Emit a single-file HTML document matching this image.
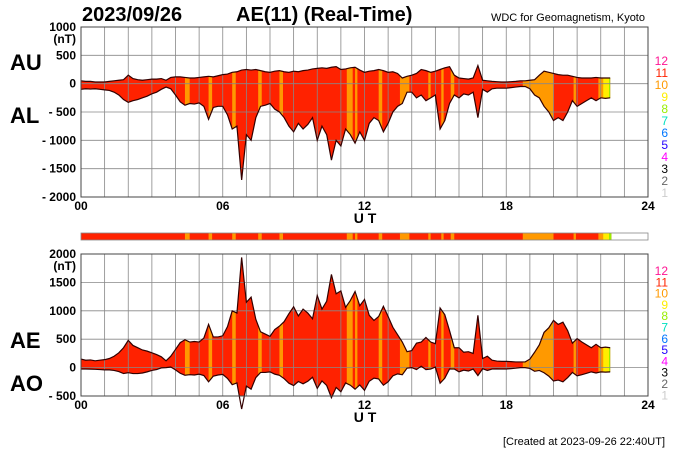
<!DOCTYPE html>
<html><head><meta charset="utf-8"><style>
body{margin:0;background:#fff;font-family:"Liberation Sans",sans-serif}
svg text{font-family:"Liberation Sans",sans-serif}
</style></head><body>
<svg id="c" width="700" height="450" viewBox="0 0 700 450" xmlns="http://www.w3.org/2000/svg">
<text x="82" y="21" font-size="20" font-weight="bold">2023/09/26</text>
<text x="236" y="21" font-size="20" font-weight="bold">AE(11) (Real-Time)</text>
<text x="645" y="21" font-size="11" text-anchor="end">WDC for Geomagnetism, Kyoto</text>
<text x="10" y="70" font-size="22" font-weight="bold">AU</text>
<text x="10" y="123" font-size="22" font-weight="bold">AL</text>
<text x="10" y="348" font-size="22" font-weight="bold">AE</text>
<text x="10" y="391" font-size="22" font-weight="bold">AO</text>
<text x="665" y="445" font-size="11" text-anchor="end">[Created at 2023-09-26 22:40UT]</text>
<g id="g"></g>
</svg>
<script>
const au=[50,40,40,30,30,30,40,50,60,70,
150,90,70,60,70,80,80,90,60,110,
120,120,110,100,100,110,120,130,120,140,
160,170,200,210,240,250,240,250,230,210,
200,220,230,210,200,220,210,230,240,260,
270,280,270,290,300,250,260,280,290,240,
200,220,230,250,230,200,210,180,100,130,
150,180,250,230,200,220,250,280,300,150,
100,90,80,100,320,60,50,40,35,30,
30,35,40,50,50,60,70,150,220,200,
180,160,150,150,130,110,100,100,100,110,
100,100,100];
const al=[-100,-90,-95,-90,-100,-110,-120,-150,-200,-280,
-330,-300,-280,-250,-220,-180,-150,-100,-60,-90,
-200,-320,-380,-350,-360,-340,-400,-630,-420,-400,
-400,-550,-800,-750,-1700,-900,-1000,-600,-400,-380,
-350,-450,-500,-600,-750,-850,-700,-800,-720,-600,
-1000,-750,-900,-1350,-1000,-1100,-800,-900,-1050,-850,
-1000,-700,-600,-650,-850,-700,-500,-400,-350,-150,
-150,-250,-200,-300,-250,-200,-800,-650,-350,-200,
-250,-180,-200,-150,-600,-100,-150,-90,-80,-80,
-80,-70,-60,-50,-50,-90,-200,-250,-400,-500,
-650,-600,-650,-500,-300,-400,-350,-300,-250,-300,
-250,-260,-250];
const times=au.map((v,i)=>Math.min(i*0.2,22.45));
const segStart=[4.4,5.4,6.4,7.5,8.4,11.25,11.6,12.6,13.5,14.7,15.25,15.65,18.7,20.85,21.9,22.1,22.35];
const segEnd=[4.6,5.55,6.55,7.65,8.55,11.5,11.7,12.75,13.9,14.8,15.35,15.8,20.0,20.95,22.1,22.35,22.5];
const segCount=[10,10,10,10,10,10,10,10,10,10,10,10,10,10,10,9,8];
const ticksTop=[1000,500,0,-500,-1000,-1500,-2000];
const ticksBot=[2000,1500,1000,500,0,-500];
const xTicks=["00","06","12","18","24"];
const legend=[12,11,10,9,8,7,6,5,4,3,2,1];
const colors={12:"#ff1493",11:"#ff2200",10:"#ff9900",9:"#ffee00",8:"#99ee00",7:"#00e0c0",6:"#0077ff",5:"#2200ff",4:"#ff00ff",3:"#000",2:"#666",1:"#ccc"};
const NS="http://www.w3.org/2000/svg",G=document.getElementById('g');
const X0=81,X1=648;
const xs=h=>X0+(X1-X0)*h/24;
function mk(t,a,p){const e=document.createElementNS(NS,t);for(const k in a)e.setAttribute(k,a[k]);(p||G).appendChild(e);return e;}
function panel(id,top,bot,vmax,vmin,ticks,up,lo,name,legTop,legStep){
  const ys=v=>top+(vmax-v)/(vmax-vmin)*(bot-top);
  const cp=mk('clipPath',{id:'cp'+id});
  let d='M'+times.map((t,i)=>xs(t)+','+ys(up[i])).join('L');
  for(let i=times.length-1;i>=0;i--)d+='L'+xs(times[i])+','+ys(lo[i]);
  d+='Z';mk('path',{d:d},cp);
  const gr=mk('g',{'clip-path':'url(#cp'+id+')'});
  
  
  mk('rect',{x:X0,y:top,width:X1-X0,height:bot-top,fill:colors[11]},gr);
  segStart.forEach((s,i)=>{const r=mk('rect',{x:xs(s),y:top,width:xs(segEnd[i])-xs(s),height:bot-top,fill:colors[segCount[i]]},gr);
    
    });
  for(let h=1;h<24;h++)mk('line',{x1:xs(h),x2:xs(h),y1:top,y2:bot,stroke:'#888','stroke-width':0.8});
  ticks.forEach(v=>{mk('line',{x1:X0,x2:X1,y1:ys(v),y2:ys(v),stroke:'#888','stroke-width':0.8});
    const t=mk('text',{x:76,y:ys(v)+4,'font-size':12,'font-weight':'bold','text-anchor':'end'});t.textContent=(v<0?'- '+(-v):v);
    
    });
  const nt=mk('text',{x:76,y:ys(ticks[0])+16,'font-size':12,'font-weight':'bold','text-anchor':'end'});nt.textContent='(nT)';
  const l1=mk('path',{d:'M'+times.map((t,i)=>xs(t)+','+ys(up[i])).join('L'),fill:'none',stroke:'#300','stroke-width':1.2});
  
  
  const l2=mk('path',{d:'M'+times.map((t,i)=>xs(t)+','+ys(lo[i])).join('L'),fill:'none',stroke:'#300','stroke-width':1.2});
  
  
  mk('rect',{x:X0,y:top,width:X1-X0,height:bot-top,fill:'none',stroke:'#444','stroke-width':1});
  xTicks.forEach((s,i)=>{const t=mk('text',{x:xs(i*6),y:bot+13,'font-size':12,'font-weight':'bold','text-anchor':'middle'});t.textContent=s;
    
    });
  const ut=mk('text',{x:365,y:bot+26,'font-size':14,'font-weight':'bold','text-anchor':'middle'});ut.textContent='U T';
  
  
  legend.forEach((n,i)=>{const t=mk('text',{x:668,y:legTop+i*legStep,'font-size':12,'text-anchor':'end',fill:colors[n]});t.textContent=n;
    
    });
}
panel('a',27,197,1000,-2000,ticksTop,au,al,'au-al',65,12);
const ae=au.map((v,i)=>v-al[i]), ao=au.map((v,i)=>(v+al[i])/2);
panel('b',254,396,2000,-500,ticksBot,ae,ao,'ae-ao',275,11.3);
const cb=mk('g',{});


mk('rect',{x:X0,y:233,width:xs(22.45)-X0,height:7,fill:colors[11]},cb);
segStart.forEach((s,i)=>mk('rect',{x:xs(s),y:233,width:xs(Math.min(segEnd[i],22.45))-xs(s),height:7,fill:colors[segCount[i]]},cb));
mk('rect',{x:X0,y:233,width:X1-X0,height:7,fill:'none',stroke:'#888','stroke-width':0.8},cb);
</script>
</body></html>
